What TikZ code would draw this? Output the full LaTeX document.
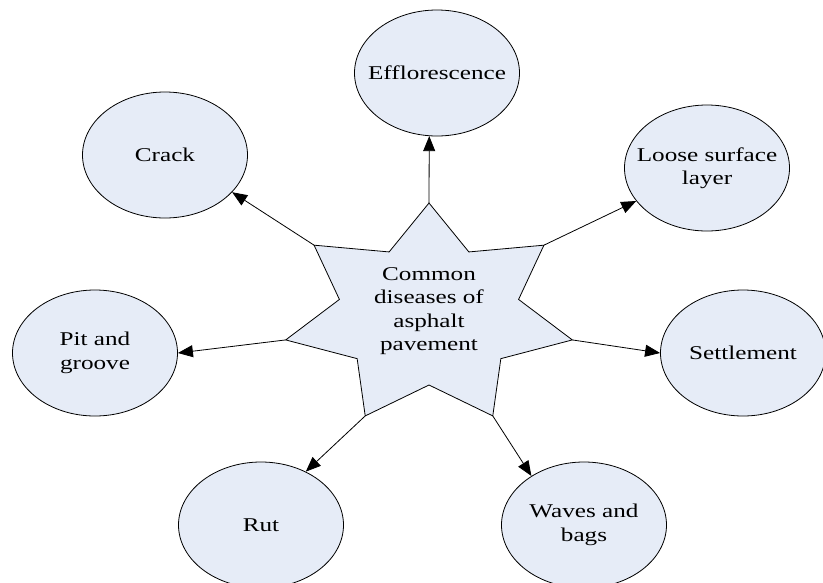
\documentclass[tikz,border=0pt]{standalone}
\usepackage{fontspec}
\setmainfont{Liberation Serif}[FakeStretch=1.29]
\usetikzlibrary{shapes.geometric,arrows.meta}
\definecolor{diseasefill}{RGB}{230,236,247}

\begin{document}
\begin{tikzpicture}[x=1pt,y=1pt,yscale=-1,
  disease/.style={ellipse, draw, fill=diseasefill, line width=0.8pt, minimum width=165pt, minimum height=126pt, inner sep=0pt},
  starbox/.style={draw, fill=diseasefill, line width=0.8pt, line join=miter},
  every label/.style={align=center, font=\fontsize{19.5}{23.5}\selectfont},
  conn/.style={line width=0.8pt, -{Triangle[length=15pt,width=12pt]}}]
\useasboundingbox (0,0) rectangle (823,582);

%Shape: Ellipses
\node[disease, label={center:Crack}] (crack) at (165,155) {};
\node[disease, label={center:Efflorescence}] (efflo) at (437,73) {};
\node[disease, label={center:Loose surface\\layer}] (loose) at (707,168) {};
\node[disease, label={center:Settlement}] (settle) at (743,353) {};
\node[disease, label={center:Waves and\\bags}] (waves) at (584,525) {};
\node[disease, label={center:Rut}] (rut) at (261,525) {};
\node[disease, label={center:Pit and\\groove}] (pit) at (95,353) {};

%Shape: Star
\begin{scope}[shift={(429,315)}]
\foreach \i [evaluate=\i as \a using -90+(\i-1)*360/7,
             evaluate=\i as \b using -90+(\i-1.5)*360/7] in {1,...,7} {
  \coordinate (p\i) at (\a:147 and 112);
  \coordinate (q\i) at (\b:91.9 and 70);
}
\end{scope}
\draw[starbox] (p7) \foreach \i in {1,...,7}{ -- (q\i) -- (p\i)} -- cycle;

% Text Node
\node[align=center, font=\fontsize{19.5}{23.5}\selectfont] (common) at (429,311) {Common\\diseases of\\asphalt\\pavement};

%Straight Lines
\draw[conn] (p1) -- (efflo.-97);
\draw[conn] (p2) -- (loose.205);
\draw[conn] (p3) -- (settle.west);
\draw[conn] (p4) -- (waves.137);
\draw[conn] (p5) -- (rut.50);
\draw[conn] (p6) -- (pit.east);
\draw[conn] (p7) -- (crack.-29);

\end{tikzpicture}
\end{document}
